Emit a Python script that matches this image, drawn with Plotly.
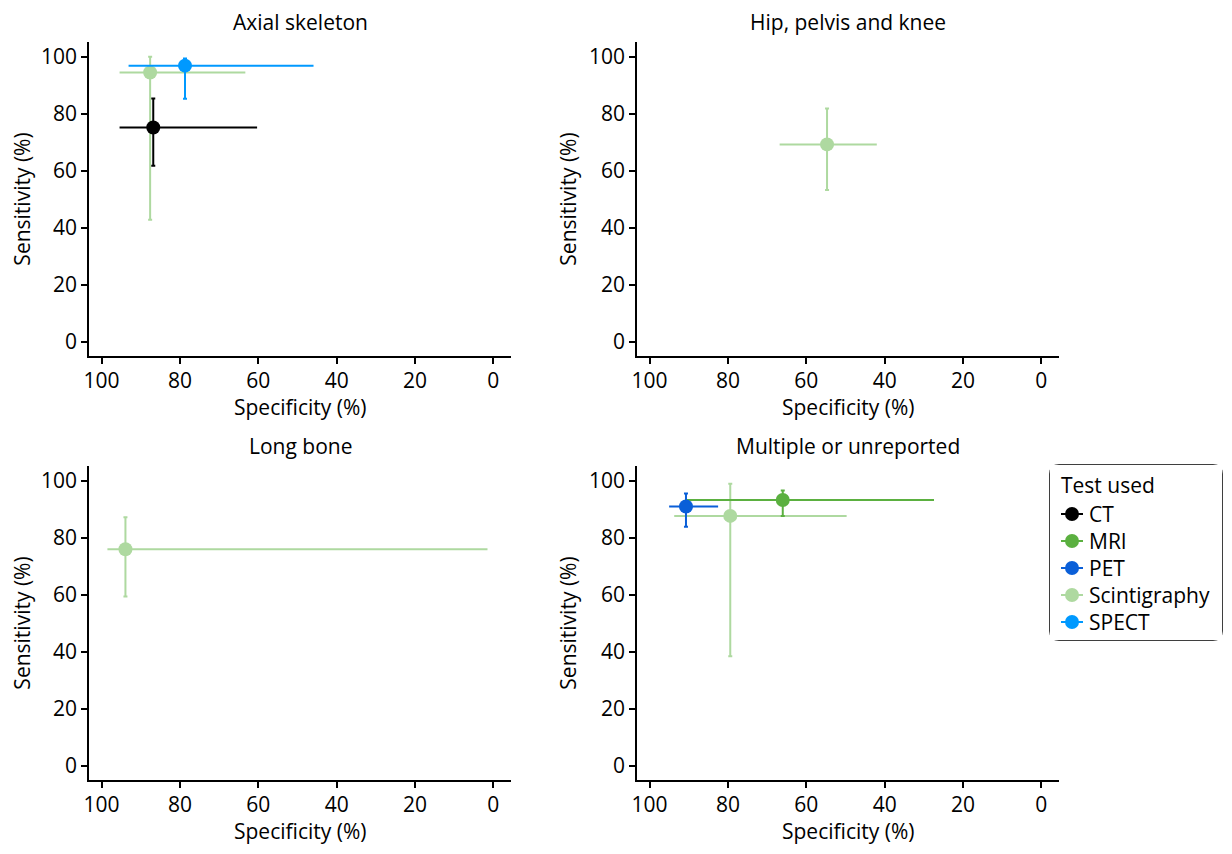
import plotly.graph_objects as go

# ---- data ----
panels = ["Axial skeleton", "Hip, pelvis and knee", "Long bone", "Multiple or unreported"]
tests = ["CT", "MRI", "PET", "Scintigraphy", "SPECT"]
test_colors = ["#000000", "#5bb040", "#0a5fd8", "#aed9a0", "#0099ff"]

# one row per study estimate
study_panel = ["Axial skeleton", "Axial skeleton", "Axial skeleton",
               "Hip, pelvis and knee", "Long bone",
               "Multiple or unreported", "Multiple or unreported", "Multiple or unreported"]
study_test = ["Scintigraphy", "CT", "SPECT",
              "Scintigraphy", "Scintigraphy",
              "Scintigraphy", "MRI", "PET"]
spec = [87.6, 86.8, 78.7, 54.7, 93.9, 79.4, 66.0, 90.7]
spec_lo = [63.3, 60.3, 45.9, 42.0, 1.5, 49.7, 27.4, 82.5]
spec_hi = [95.4, 95.4, 93.1, 66.8, 98.5, 93.7, 90.5, 95.0]
sens = [94.5, 75.2, 96.9, 69.3, 76.0, 87.7, 93.3, 91.0]
sens_lo = [42.9, 61.8, 85.3, 53.3, 59.4, 38.5, 87.7, 83.9]
sens_hi = [100.0, 85.4, 99.4, 81.9, 87.2, 99.0, 96.6, 95.6]

x_ticks = [100, 80, 60, 40, 20, 0]
y_ticks = [0, 20, 40, 60, 80, 100]
x_title = "Specificity (%)"
y_title = "Sensitivity (%)"
legend_title = "Test used"

FONT = "Open Sans"
FS = 21
OFF = 8                      # page body margin
W, H = 1232 - 2 * OFF, 854 - 2 * OFF - 2   # fit viewport without scrollbars


def px(x):
    return (x - OFF) / W


def py(y):
    return 1 - (y - OFF) / H


# panel boxes in screen pixels: (x0, x1, ytop, ybottom)
boxes = [(89, 511, 42, 356), (637, 1059, 42, 356), (89, 511, 466, 780), (637, 1059, 466, 780)]

fig = go.Figure()
layout = {}
annotations = []
for i, (pname, (x0, x1, yt, yb)) in enumerate(zip(panels, boxes)):
    n = "" if i == 0 else str(i + 1)
    xa, ya = "xaxis" + n, "yaxis" + n
    layout[xa] = dict(
        domain=[px(x0), px(x1)], range=[103.2, -4.5], anchor="y" + n, automargin=False,
        tickvals=x_ticks, ticks="outside", ticklen=6, tickwidth=1.5, tickcolor="black",
        showline=True, linecolor="black", linewidth=1.5, showgrid=False, zeroline=False,
        tickfont=dict(size=FS, color="black", family=FONT), ticklabelstandoff=-1,
    )
    layout[ya] = dict(
        domain=[py(yb), py(yt)], range=[-4.9, 105.2], anchor="x" + n, automargin=False,
        tickvals=y_ticks, ticks="outside", ticklen=6, tickwidth=1.5, tickcolor="black",
        showline=True, linecolor="black", linewidth=1.5, showgrid=False, zeroline=False,
        title=dict(text=y_title, font=dict(size=FS, color="black", family=FONT), standoff=7),
        tickfont=dict(size=FS, color="black", family=FONT),
    )
    annotations.append(dict(
        text=pname, x=(px(x0) + px(x1)) / 2, y=py(yt - 20), xref="paper", yref="paper",
        showarrow=False, xanchor="center", yanchor="middle",
        font=dict(size=FS, color="black", family=FONT)))
    annotations.append(dict(
        text=x_title, x=(px(x0) + px(x1)) / 2, y=py(yb + 51), xref="paper", yref="paper",
        showarrow=False, xanchor="center", yanchor="middle",
        font=dict(size=FS, color="black", family=FONT)))

draw_order = ["Scintigraphy", "CT", "MRI", "PET", "SPECT"]
for t in draw_order:
    color = test_colors[tests.index(t)]
    for i, pname in enumerate(panels):
        idx = [k for k in range(len(spec)) if study_panel[k] == pname and study_test[k] == t]
        if not idx:
            continue
        n = "" if i == 0 else str(i + 1)
        fig.add_trace(go.Scatter(
            x=[spec[k] for k in idx], y=[sens[k] for k in idx],
            mode="markers", name=t, showlegend=False,
            xaxis="x" + n, yaxis="y" + n,
            marker=dict(size=14, color=color),
            error_x=dict(type="data", symmetric=False,
                         array=[spec_hi[k] - spec[k] for k in idx],
                         arrayminus=[spec[k] - spec_lo[k] for k in idx],
                         color=color, thickness=2, width=0),
            error_y=dict(type="data", symmetric=False,
                         array=[sens_hi[k] - sens[k] for k in idx],
                         arrayminus=[sens[k] - sens_lo[k] for k in idx],
                         color=color, thickness=2, width=2),
        ))

# ---- legend (drawn in its own hidden axis, with a rounded frame) ----
lx0, lx1, ly0, ly1, r = 1050, 1222, 465, 640, 9
layout["xaxis5"] = dict(domain=[px(lx0), px(lx1)], range=[lx0, lx1], visible=False,
                        fixedrange=True, anchor="y5")
layout["yaxis5"] = dict(domain=[py(ly1), py(ly0)], range=[ly1, ly0], visible=False,
                        fixedrange=True, anchor="x5")
row_y0, row_dy = 514, 27
for j, t in enumerate(tests):
    yy = row_y0 + j * row_dy
    fig.add_trace(go.Scatter(
        x=[1061, 1083], y=[yy, yy], mode="lines", showlegend=False, hoverinfo="skip",
        line=dict(color=test_colors[j], width=2), xaxis="x5", yaxis="y5"))
    fig.add_trace(go.Scatter(
        x=[1072], y=[yy], mode="markers", name=t, showlegend=False,
        marker=dict(size=14, color=test_colors[j]), xaxis="x5", yaxis="y5"))
    annotations.append(dict(text=t, x=px(1087), y=py(yy), xref="paper", yref="paper",
                            showarrow=False, xanchor="left", yanchor="middle",
                            font=dict(size=FS, color="black", family=FONT)))
annotations.append(dict(text=legend_title, x=px(1059), y=py(485), xref="paper", yref="paper",
                        showarrow=False, xanchor="left", yanchor="middle",
                        font=dict(size=FS, color="black", family=FONT)))

frame = (f"M {px(lx0 + r)},{py(ly0)} L {px(lx1 - r)},{py(ly0)} Q {px(lx1)},{py(ly0)} {px(lx1)},{py(ly0 + r)} "
         f"L {px(lx1)},{py(ly1 - r)} Q {px(lx1)},{py(ly1)} {px(lx1 - r)},{py(ly1)} "
         f"L {px(lx0 + r)},{py(ly1)} Q {px(lx0)},{py(ly1)} {px(lx0)},{py(ly1 - r)} "
         f"L {px(lx0)},{py(ly0 + r)} Q {px(lx0)},{py(ly0)} {px(lx0 + r)},{py(ly0)} Z")

fig.update_layout(
    width=W, height=H, margin=dict(l=0, r=0, t=0, b=0),
    plot_bgcolor="white", paper_bgcolor="white",
    font=dict(family=FONT, size=FS, color="black"),
    annotations=annotations, showlegend=False,
    shapes=[dict(type="path", path=frame, xref="paper", yref="paper",
                 line=dict(color="black", width=1.5), layer="below")],
    **layout,
)

fig.write_html("out.html")
